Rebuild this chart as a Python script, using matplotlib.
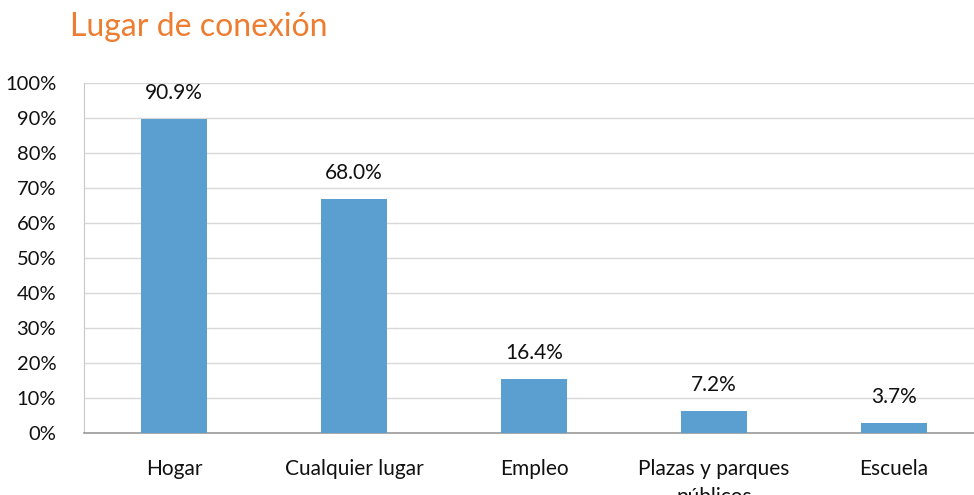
import matplotlib.pyplot as plt
from matplotlib.ticker import PercentFormatter

categories = ['Hogar', 'Cualquier lugar', 'Empleo', 'Plazas y parques\npúblicos', 'Escuela']
values = [89.7, 66.9, 15.4, 6.3, 2.9]
labels = ['90.9%', '68.0%', '16.4%', '7.2%', '3.7%']

plt.rcParams['font.family'] = ['Lato', 'DejaVu Sans']

fig = plt.figure(figsize=(9.74, 4.95), dpi=100)
ax = fig.add_axes([84 / 974, 62 / 495, 900 / 974, 350 / 495])

x = range(len(categories))
bars = ax.bar(x, values, width=0.37, color='#5B9FD0', zorder=3)
for b, lab in zip(bars, labels):
    ax.text(b.get_x() + b.get_width() / 2, b.get_height() + 4.5, lab,
            ha='center', va='bottom', fontsize=15, color='#111111')

ax.set_xlim(-0.5, len(categories) - 0.5)
ax.set_ylim(0, 100)
ax.set_yticks(range(0, 101, 10))
ax.yaxis.set_major_formatter(PercentFormatter(decimals=0))
ax.set_xticks(list(x))
ax.set_xticklabels(categories, va='top', linespacing=1.5)
ax.tick_params(axis='x', length=0, labelsize=15, colors='#111111', pad=19)
ax.tick_params(axis='y', length=0, labelsize=14.5, colors='#111111', pad=20)

ax.grid(axis='y', color='#D9D9D9', linewidth=1, zorder=0)
for s in ['top', 'right']:
    ax.spines[s].set_visible(False)
ax.spines['left'].set_color('#C8C8C8')
ax.spines['bottom'].set_color('#9A9A9A')
ax.spines['bottom'].set_linewidth(1.2)

fig.text(70 / 974, 1 - 36 / 495, 'Lugar de conexión', fontsize=23,
         color='#ED7D31', ha='left', va='baseline')

fig.savefig('out.png', dpi=100)
